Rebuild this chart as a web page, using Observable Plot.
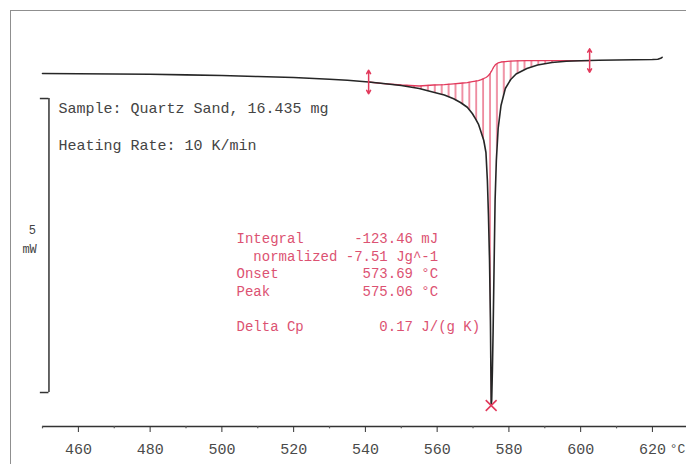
<!DOCTYPE html>
<html>
<head>
<meta charset="utf-8">
<script src="https://cdn.jsdelivr.net/npm/d3@7"></script>
<script src="https://cdn.jsdelivr.net/npm/@observablehq/plot@0.6"></script>
<style>
html, body { margin: 0; padding: 0; background: #fff; }
#wrap { position: relative; width: 686px; height: 464px; overflow: hidden; background: #fff; }
#border { position: absolute; left: 10px; top: 10px; width: 700px; height: 480px; border: 1.5px solid #8f8f8f; box-sizing: border-box; pointer-events: none; }
</style>
</head>
<body>
<div id="wrap"><div id="border"></div></div>
<script>
// ---- data (temperature in °C, heat flow in mW) ----
const temp = [450, 460, 470, 480, 490, 500, 510, 520, 530, 535, 540.9, 545, 550, 555, 559, 562, 564.6, 566.5, 568.4, 569.8, 570.7, 571.5, 572.1, 573, 573.6, 574, 574.3, 574.6, 574.85, 575, 575.06, 575.2, 575.4, 575.6, 575.85, 576.15, 576.5, 577, 577.8, 579, 580.5, 582, 585, 588, 592, 596, 600, 602.5, 605, 610, 615, 620, 621.5, 622.3, 622.7];
const heatFlow = [0.425, 0.422, 0.417, 0.412, 0.403, 0.391, 0.374, 0.357, 0.327, 0.310, 0.281, 0.255, 0.221, 0.170, 0.107, 0.060, -0.005, -0.068, -0.148, -0.255, -0.345, -0.434, -0.544, -0.714, -0.918, -1.395, -1.990, -2.755, -3.776, -4.796, -5.221, -5.136, -4.626, -3.946, -2.925, -1.735, -1.054, -0.510, -0.119, 0.170, 0.323, 0.417, 0.510, 0.570, 0.612, 0.633, 0.643, 0.646, 0.650, 0.655, 0.660, 0.663, 0.668, 0.684, 0.701];
const baseline = [null, null, null, null, null, null, null, null, null, null, 0.281, 0.255, 0.230, 0.213, 0.230, 0.238, 0.250, 0.260, 0.272, 0.286, 0.296, 0.306, 0.318, 0.340, 0.357, 0.374, 0.391, 0.412, 0.434, 0.451, 0.456, 0.471, 0.493, 0.517, 0.544, 0.570, 0.588, 0.605, 0.621, 0.629, 0.636, 0.639, 0.643, 0.645, 0.646, 0.646, 0.646, 0.646, null, null, null, null, null, null, null];

const limitTemps = [540.9, 602.5];
const limitFlows = [0.281, 0.646];
const peakTemp = [575.06];
const peakFlow = [-5.221];

const majorTicks = [460, 480, 500, 520, 540, 560, 580, 600, 620];
const minorTicks = [450, 470, 490, 510, 530, 550, 570, 590, 610];
const scaleBarMW = [0, -5];

const infoLines = ["Sample: Quartz Sand, 16.435 mg", "", "Heating Rate: 10 K/min"];
const statLines = [
  "Integral      -123.46 mJ",
  "  normalized -7.51 Jg^-1",
  "Onset          573.69 °C",
  "Peak           575.06 °C",
  "",
  "Delta Cp         0.17 J/(g K)"
];

// ---- layout ----
const xDomain = [450, 629.5];
const yDomain = [-5.578, 1.497];
const RED = "#e23a5c";
const RED_TEXT = "#dc5272";
const MONO = "'Liberation Mono', 'DejaVu Sans Mono', monospace";
const nb = s => s.replace(/ /g, "\u00A0");

const table = temp.map((t, i) => ({t, flow: heatFlow[i], base: baseline[i]}));
const baseRows = table.filter(d => d.base != null);
const limits = limitTemps.map((t, i) => ({t, v: limitFlows[i]}));
const peak = peakTemp.map((t, i) => ({t, v: peakFlow[i]}));
const barX = 451.8, barTickX = 449.4;

const chart = Plot.plot({
  width: 686, height: 464,
  marginLeft: 42, marginRight: 0, marginTop: 10, marginBottom: 38,
  x: {domain: xDomain, label: null},
  y: {domain: yDomain, axis: null, label: null},
  style: {fontFamily: MONO, fontSize: "15px", color: "#3a3a3a", background: "transparent"},
  marks: [
    Plot.areaY(baseRows, {x: "t", y1: "flow", y2: "base", fill: "url(#hatchRed)"}),
    Plot.line(baseRows, {x: "t", y: "base", stroke: RED, strokeWidth: 1.3}),
    Plot.line(table, {x: "t", y: "flow", stroke: "#262626", strokeWidth: 1.6}),
    Plot.arrow(limits, {x1: "t", x2: "t", y1: "v", y2: d => d.v + 0.2, stroke: RED, strokeWidth: 1.5, headLength: 5}),
    Plot.arrow(limits, {x1: "t", x2: "t", y1: "v", y2: d => d.v - 0.2, stroke: RED, strokeWidth: 1.5, headLength: 5}),
    Plot.dot(peak, {x: "t", y: "v", symbol: "times", r: 5, stroke: RED, strokeWidth: 1.6}),
    // 5 mW scale bar
    Plot.ruleX([barX], {y1: scaleBarMW[0], y2: scaleBarMW[1], stroke: "#333", strokeWidth: 1.5}),
    Plot.ruleY(scaleBarMW, {x1: barTickX, x2: barX, stroke: "#333", strokeWidth: 1.5}),
    Plot.text(["5"], {x: () => 447.2, y: () => -2.245, fontSize: 12, fill: "#444"}),
    Plot.text(["mW"], {x: () => 446.4, y: () => -2.568, fontSize: 12, fill: "#444"}),
    // x axis
    Plot.ruleY([yDomain[0]], {stroke: "#333", strokeWidth: 1.5}),
    Plot.axisX(majorTicks, {tickSize: 6, tickPadding: 11, fontSize: 15, stroke: "#333", fill: "#4a4a4a", label: null}),
    Plot.ruleX(minorTicks, {y1: yDomain[0], y2: yDomain[0] - 0.04, stroke: "#555", strokeWidth: 1.2}),
    Plot.text(["°C"], {x: () => 627.0, frameAnchor: "bottom", lineAnchor: "top", dy: 17, fontSize: 13, fill: "#4a4a4a"}),
    // annotations
    Plot.text([infoLines.map(nb).join("\n")], {x: () => 454.46, y: () => -0.468, textAnchor: "start", lineAnchor: "middle", lineHeight: 1.233, fontSize: 15, fill: "#444"}),
    Plot.text([statLines.map(nb).join("\n")], {x: () => 504.08, y: () => -3.112, textAnchor: "start", lineAnchor: "middle", lineHeight: 1.257, fontSize: 14, fill: RED_TEXT})
  ]
});

const svg = d3.select(chart);
svg.insert("defs", ":first-child")
  .append("pattern")
  .attr("id", "hatchRed")
  .attr("patternUnits", "userSpaceOnUse")
  .attr("x", 4).attr("y", 0)
  .attr("width", 6.9).attr("height", 8)
  .append("line")
  .attr("x1", 3).attr("x2", 3).attr("y1", 0).attr("y2", 8)
  .attr("stroke", RED).attr("stroke-width", 1.1);

document.getElementById("wrap").insertBefore(chart, document.getElementById("border"));
</script>
</body>
</html>
